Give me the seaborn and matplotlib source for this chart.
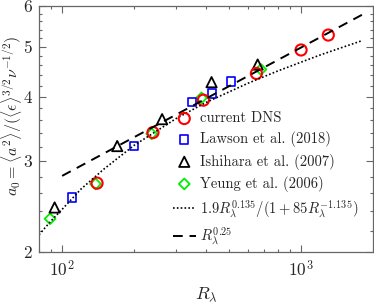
import numpy as np
import pandas as pd
import seaborn as sns
import matplotlib
matplotlib.use("Agg")
import matplotlib.pyplot as plt
from matplotlib.ticker import FixedLocator, FixedFormatter, NullFormatter, LogLocator

# values
dns_R = [140, 240, 390, 650, 1000, 1300]
dns_a0 = [2.72, 3.41, 3.94, 4.44, 4.93, 5.27]

lawson_R = [110, 200, 350, 425, 510]
lawson_a0 = [2.55, 3.21, 3.91, 4.06, 4.28]

ishihara_R = [93, 170, 262, 422, 658]
ishihara_a0 = [2.44, 3.21, 3.62, 4.27, 4.62]

yeung_R = [89, 138, 237, 383, 679]
yeung_a0 = [2.32, 2.71, 3.39, 3.98, 4.52]

fit_R = [80, 90, 100, 120, 150, 200, 300, 400, 600, 800, 1200, 1800]
fit_a0 = [2.16, 2.30, 2.42, 2.65, 2.90, 3.22, 3.63, 3.90, 4.25, 4.49, 4.82, 5.14]

pow_R = [100, 1800]
pow_a0 = [2.81, 5.77]

y_ticks = [2, 3, 4, 5, 6]
y_ticklabels = ["2", "3", "4", "5", "6"]
y_minor = [2.2, 2.4, 2.6, 2.8, 3.2, 3.4, 3.6, 3.8, 4.2, 4.4, 4.6, 4.8, 5.2, 5.4, 5.6, 5.8]

sns.set_style("ticks")
plt.rcParams["font.family"] = "serif"
plt.rcParams["font.serif"] = ["cmr10", "DejaVu Serif"]
plt.rcParams["mathtext.fontset"] = "cm"
plt.rcParams["axes.formatter.use_mathtext"] = True

fig = plt.figure(figsize=(3.74, 3.02), dpi=100)
ax = fig.add_axes([39 / 374, 1 - 252 / 302, 334 / 374, 246 / 302])

fit = pd.DataFrame({"R": fit_R, "a0": fit_a0})
pw = pd.DataFrame({"R": pow_R, "a0": pow_a0})

sns.lineplot(data=fit, x="R", y="a0", ax=ax, color="black", lw=1.2,
             linestyle=(0, (1, 1.3)), label=r"$1.9R_\lambda^{0.135}/(1+85R_\lambda^{-1.135})$")
sns.lineplot(data=pw, x="R", y="a0", ax=ax, color="black", lw=1.4,
             linestyle=(0, (5, 3.5)), label=r"$R_\lambda^{0.25}$")

sns.scatterplot(x=yeung_R, y=yeung_a0, ax=ax, marker="D", s=30, facecolor="none",
                edgecolor="#00ee00", linewidth=1.3, label="Yeung et al. (2006)")
sns.scatterplot(x=ishihara_R, y=ishihara_a0, ax=ax, marker="^", s=55, facecolor="none",
                edgecolor="black", linewidth=1.3, label="Ishihara et al. (2007)")
sns.scatterplot(x=lawson_R, y=lawson_a0, ax=ax, marker="s", s=36, facecolor="none",
                edgecolor="#0000ff", linewidth=1.2, label="Lawson et al. (2018)")
sns.scatterplot(x=dns_R, y=dns_a0, ax=ax, marker="o", s=64, facecolor="none",
                edgecolor="#ff0000", linewidth=1.5, label="current DNS")

ax.set_xscale("log")
ax.set_yscale("log")
ax.set_xlim(80, 2000)
ax.set_ylim(2, 6)

ax.yaxis.set_major_locator(FixedLocator(y_ticks))
ax.yaxis.set_major_formatter(FixedFormatter(y_ticklabels))
ax.yaxis.set_minor_locator(FixedLocator(y_minor))
ax.yaxis.set_minor_formatter(NullFormatter())
ax.xaxis.set_major_locator(LogLocator(base=10))
ax.xaxis.set_minor_locator(LogLocator(base=10, subs=np.arange(2, 10)))
ax.xaxis.set_minor_formatter(NullFormatter())

spine_col = "0.4"
for s in ax.spines.values():
    s.set_color(spine_col)
    s.set_linewidth(0.9)
ax.tick_params(which="both", direction="in", top=True, right=True, color=spine_col,
               labelsize=12.5, width=0.8)
ax.tick_params(which="major", length=5, pad=5)
ax.tick_params(which="minor", length=2.5)

ax.set_xlabel(r"$R_\lambda$", fontsize=13, labelpad=4)
ax.set_ylabel(r"$a_0 = \langle a^2\rangle/(\langle\epsilon\rangle^{3/2}\nu^{-1/2})$",
              fontsize=11.5)
ax.yaxis.set_label_coords(-0.045, 0.553)

h, l = ax.get_legend_handles_labels()
order = [5, 4, 3, 2, 0, 1]
ax.legend([h[i] for i in order], [l[i] for i in order], loc="lower left",
          bbox_to_anchor=(0.40, 0.02), frameon=False, fontsize=10.5,
          handlelength=1.6, handletextpad=0.3, labelspacing=0.42, borderpad=0,
          borderaxespad=0)

fig.savefig("out.png", dpi=100)
